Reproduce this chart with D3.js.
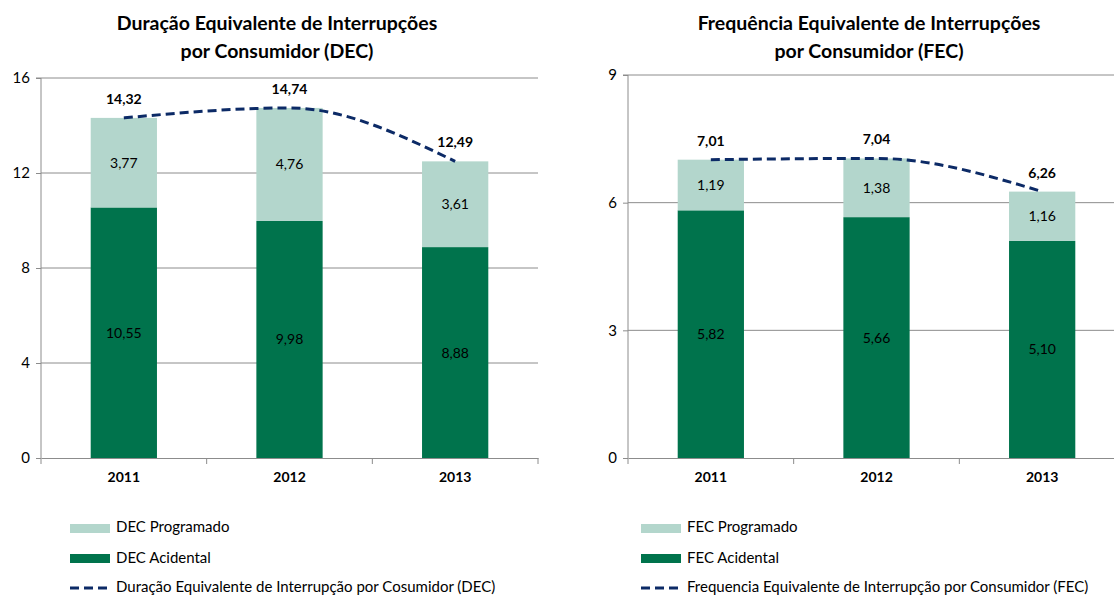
<!DOCTYPE html>
<html><head><meta charset="utf-8">
<script src="https://cdn.jsdelivr.net/npm/d3@7"></script>
<style>body{margin:0;background:#fff}svg{font-family:Lato,"Open Sans",sans-serif}</style>
</head><body>
<svg id="c" width="1114" height="595"></svg>
<script>
const years = ["2011","2012","2013"];
const decProgramado = [3.77, 4.76, 3.61];
const decAcidental = [10.55, 9.98, 8.88];
const decTotal = [14.32, 14.74, 12.49];
const fecProgramado = [1.19, 1.38, 1.16];
const fecAcidental = [5.82, 5.66, 5.10];
const fecTotal = [7.01, 7.04, 6.26];
const decTicks = [0, 4, 8, 12, 16];
const fecTicks = [0, 3, 6, 9];

const fmt = v => v.toFixed(2).replace(".", ",");
const svg = d3.select("#c");
const cLight = "#b3d6cc", cDark = "#00734c", cLine = "#0c2a66";

function chart(cfg){
  const g = svg.append("g");
  const x = d3.scaleBand().domain(years).range([cfg.x0, cfg.x0 + 497]).paddingInner(0.6).paddingOuter(0.3);
  const xb = d3.scaleBand().domain(years).range([cfg.x0, cfg.x0 + 497]);
  const y = d3.scaleLinear().domain([0, cfg.max]).range([458, cfg.yTop]);
  // title
  const t = g.append("text").attr("x", cfg.tx).attr("text-anchor","middle").attr("font-weight","bold").attr("font-size",19.5).attr("fill","#000");
  t.append("tspan").attr("x", cfg.tx).attr("y", 30).text(cfg.title[0]);
  t.append("tspan").attr("x", cfg.tx).attr("y", 58).text(cfg.title[1]);
  // grid
  g.selectAll(".grid").data(cfg.ticks.filter(d=>d>0)).join("line")
    .attr("x1", cfg.x0).attr("x2", cfg.x0+497).attr("y1", d=>y(d)).attr("y2", d=>y(d))
    .attr("stroke","#8c8c8c").attr("stroke-width",1);
  // y axis
  const ya = g.append("g").attr("transform",`translate(${cfg.x0},0)`)
    .call(d3.axisLeft(y).tickValues(cfg.ticks).tickSize(5).tickPadding(6).tickFormat(d3.format("d")));
  ya.select(".domain").attr("stroke","#8c8c8c").attr("d", `M-5,${y(cfg.max)}H0V458`);
  ya.selectAll(".tick line").attr("stroke","#8c8c8c");
  ya.selectAll("text").attr("font-size",15).attr("font-family","Lato").attr("fill","#000");
  // bars
  const bars = g.append("g");
  bars.selectAll(".a").data(years).join("rect")
    .attr("x", d=>x(d)).attr("width", x.bandwidth())
    .attr("y", (d,i)=>y(cfg.acc[i])).attr("height",(d,i)=>y(0)-y(cfg.acc[i])).attr("fill", cDark);
  bars.selectAll(".p").data(years).join("rect")
    .attr("x", d=>x(d)).attr("width", x.bandwidth())
    .attr("y", (d,i)=>y(cfg.acc[i]+cfg.prog[i])).attr("height",(d,i)=>y(cfg.acc[i])-y(cfg.acc[i]+cfg.prog[i])).attr("fill", cLight);
  // x axis
  const xa = g.append("g").attr("transform","translate(0,458)")
    .call(d3.axisBottom(xb).tickSize(0).tickPadding(14));
  xa.select(".domain").attr("stroke","#8c8c8c");
  xa.selectAll("text").attr("font-size",14).attr("font-weight","bold").attr("font-family","Lato").attr("fill","#000");
  g.selectAll(".xt").data(years).join("line")
    .attr("x1", d=>xb(d)).attr("x2", d=>xb(d)).attr("y1",458).attr("y2",464).attr("stroke","#8c8c8c");
  g.append("line").attr("x1", cfg.x0+497).attr("x2", cfg.x0+497).attr("y1",458).attr("y2",464).attr("stroke","#8c8c8c");
  // value labels
  const cx = d => x(d) + x.bandwidth()/2;
  g.selectAll(".la").data(years).join("text").attr("x", cx)
    .attr("y",(d,i)=>(y(0)+y(cfg.acc[i]))/2+5).attr("text-anchor","middle").attr("font-size",14).attr("fill","#000")
    .text((d,i)=>fmt(cfg.acc[i]));
  g.selectAll(".lp").data(years).join("text").attr("x", cx)
    .attr("y",(d,i)=>(y(cfg.acc[i])+y(cfg.acc[i]+cfg.prog[i]))/2+5).attr("text-anchor","middle").attr("font-size",14).attr("fill","#000")
    .text((d,i)=>fmt(cfg.prog[i]));
  // line
  const line = d3.line().x((d,i)=>cx(years[i])).y(d=>y(d)).curve(d3.curveMonotoneX);
  g.append("path").attr("d", line(cfg.total)).attr("fill","none").attr("stroke",cLine)
    .attr("stroke-width",3).attr("stroke-dasharray","9,5");
  g.selectAll(".lt").data(years).join("text").attr("x", cx)
    .attr("y",(d,i)=>y(cfg.total[i])-14).attr("text-anchor","middle").attr("font-size",14).attr("font-weight","bold").attr("fill","#000")
    .text((d,i)=>fmt(cfg.total[i]));
  // legend
  const lg = g.append("g");
  const lx = cfg.lx;
  lg.append("rect").attr("x",lx).attr("y",524).attr("width",40).attr("height",9).attr("fill",cLight);
  lg.append("rect").attr("x",lx).attr("y",554).attr("width",40).attr("height",9).attr("fill",cDark);
  lg.append("line").attr("x1",lx).attr("x2",lx+38).attr("y1",588).attr("y2",588).attr("stroke",cLine).attr("stroke-width",3).attr("stroke-dasharray","9,5");
  [532, 563, 592].forEach((yy,i)=>{
    lg.append("text").attr("x",lx+46).attr("y",yy).attr("font-size",15).attr("fill","#000").text(cfg.legend[i]);
  });
}

chart({x0:41, max:16, yTop:78, ticks:decTicks, acc:decAcidental, prog:decProgramado, total:decTotal, tx:277,
  title:["Duração Equivalente de Interrupções","por Consumidor (DEC)"], lx:70,
  legend:["DEC Programado","DEC Acidental","Duração Equivalente de Interrupção por Cosumidor (DEC)"]});
chart({x0:628, max:9, yTop:75, ticks:fecTicks, acc:fecAcidental, prog:fecProgramado, total:fecTotal, tx:869,
  title:["Frequência Equivalente de Interrupções","por Consumidor (FEC)"], lx:641,
  legend:["FEC Programado","FEC Acidental","Frequencia Equivalente de Interrupção por Consumidor (FEC)"]});
</script>
</body></html>
